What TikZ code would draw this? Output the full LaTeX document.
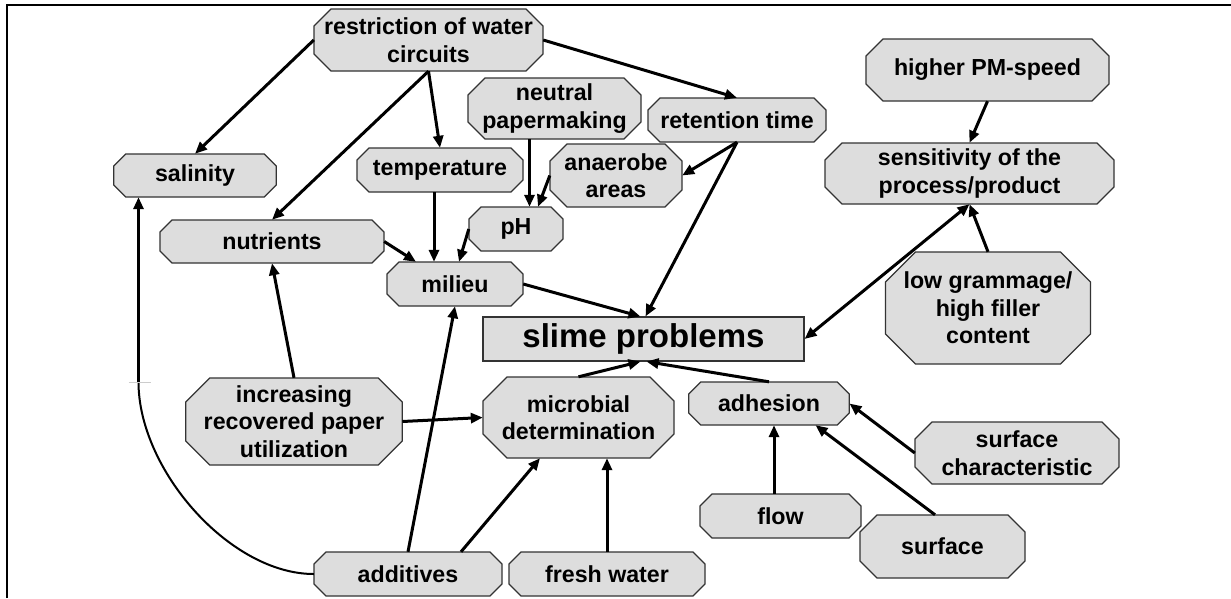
\documentclass[tikz,border=0pt]{standalone}
\usepackage{fontspec}
\setmainfont{Liberation Sans}
\usetikzlibrary{arrows.meta}
\definecolor{boxfill}{HTML}{DDDDDD}
\definecolor{boxline}{HTML}{333333}
\newcommand{\octbox}[7]{%
  \filldraw[boxshape] ({#2-#4/2+#6},{#3-#5/2}) -- ({#2+#4/2-#6},{#3-#5/2}) -- ({#2+#4/2},{#3-#5/2+#6}) -- ({#2+#4/2},{#3+#5/2-#6}) -- ({#2+#4/2-#6},{#3+#5/2}) -- ({#2-#4/2+#6},{#3+#5/2}) -- ({#2-#4/2},{#3+#5/2-#6}) -- ({#2-#4/2},{#3-#5/2+#6}) -- cycle;
  \node[lbl, minimum width=#4pt, minimum height=#5pt] (#1) at (#2,#3) {#7};}
\begin{document}
\begin{tikzpicture}[x=1pt,y=-1pt,
  boxshape/.style={fill=boxfill, draw=boxline, line width=1.1pt},
  lbl/.style={inner sep=0pt, align=center, font=\bfseries\fontsize{23.2}{27.5}\selectfont},
  arr/.style={line width=3pt, -{Triangle[length=12pt,width=10pt]}},
  biarr/.style={line width=3pt, {Triangle[length=12pt,width=10pt]}-{Triangle[length=12pt,width=10pt]}},
  thinline/.style={line width=2pt},
  frame/.style={line width=1.5pt}]
\useasboundingbox (0,0) rectangle (1231,598);
\draw[frame] (7,598) -- (7,5) -- (1231,5);

\octbox{restr}{428.5}{40}{229}{62}{17}{restriction of water\\circuits}
\octbox{salin}{195}{175.5}{162.5}{43}{12}{salinity}
\octbox{temp}{440}{170}{166}{44}{12}{temperature}
\octbox{neutral}{554.5}{108.5}{173}{61}{17}{neutral\\papermaking}
\octbox{retent}{737}{120}{178}{44}{12}{retention time}
\octbox{anaer}{616}{175.5}{132}{63}{17}{anaerobe\\areas}
\octbox{ph}{516}{229}{94}{44}{12}{pH}
\octbox{nutr}{272}{241.5}{224}{43}{12}{nutrients}
\octbox{milieu}{455}{284}{136}{44}{12}{milieu}
\octbox{pm}{987.5}{70}{243}{62}{17}{higher PM-speed}
\octbox{sens}{969.5}{173.5}{289}{61}{17}{sensitivity of the\\process/product}
\octbox{lowg}{988}{308}{205}{112}{30}{low grammage/\\high filler\\content}
\octbox{incr}{294}{421.5}{216.5}{87}{24}{increasing\\recovered paper\\utilization}
\octbox{micro}{578.5}{417.5}{191}{81}{24}{microbial\\determination}
\octbox{adh}{769}{403.5}{160.5}{43}{12}{adhesion}
\octbox{surfc}{1017}{453}{204}{62}{17}{surface\\characteristic}
\octbox{flow}{780.5}{516}{161}{44}{12}{flow}
\octbox{surf}{942.5}{546.5}{165}{63}{17}{surface}
\octbox{addit}{408}{574}{188}{44}{12}{additives}
\octbox{fresh}{607}{574}{196}{44}{12}{fresh water}

\node[boxshape, rectangle, inner sep=0pt, minimum width=321pt, minimum height=44pt,
      font=\bfseries\fontsize{33}{38}\selectfont] (slime) at (643.5,339) {slime problems};

% connectors
\draw[arr] (restr.west) -- (salin.north);
\draw[arr] (restr.south) -- (nutr.north);
\draw[arr] (restr.south) -- (temp.north);
\draw[arr] (restr.east) -- (retent.north);
\draw[arr] ([xshift=-25pt]neutral.south) -- ([xshift=-25pt]neutral.south |- ph.north);
\draw[arr] (anaer.west) -- ([xshift=22pt]ph.north);
\draw[arr] (retent.south) -- (anaer.east);
\draw[arr] (retent.south) -- ([xshift=2pt]slime.north);
\draw[arr] ([xshift=-6pt]temp.south) -- ([xshift=-6pt]temp.south |- milieu.north);
\draw[arr] (nutr.east) -- ([xshift=-39pt]milieu.north);
\draw[arr] (ph.west) -- ([xshift=4pt]milieu.north);
\draw[arr] (milieu.east) -- ([xshift=-3pt]slime.north);
\draw[arr] (pm.south) -- (sens.north);
\draw[arr] (lowg.north) -- (sens.south);
\draw[biarr] (sens.south) -- (slime.east);
\draw[arr] (micro.north) -- ([xshift=-3pt]slime.south);
\draw[arr] (adh.north) -- ([xshift=3pt]slime.south);
\draw[arr] (incr.north) -- (nutr.south);
\draw[arr] (incr.east) -- (micro.west);
\draw[arr] (addit.north) -- (milieu.south);
\draw[arr] ([xshift=53pt]addit.north) -- ([xshift=-38.5pt]micro.south);
\coordinate (bend) at (138.5,382);
\draw[thinline] (addit.west) .. controls (230,574) and (138.5,470) .. (bend);
\draw[arr] (bend) -- (bend |- salin.south);
\draw[gray!40, line width=0.8pt] ([xshift=-10pt]bend) -- ([xshift=12pt]bend);
\draw[arr] (fresh.north) -- (fresh.north |- micro.south);
\draw[arr] ([xshift=-6.5pt]flow.north) -- ([xshift=-6.5pt]flow.north |- adh.south);
\draw[arr] ([xshift=-7.5pt]surf.north) -- ([xshift=46.5pt]adh.south);
\draw[arr] (surfc.west) -- (adh.east);
\end{tikzpicture}
\end{document}
